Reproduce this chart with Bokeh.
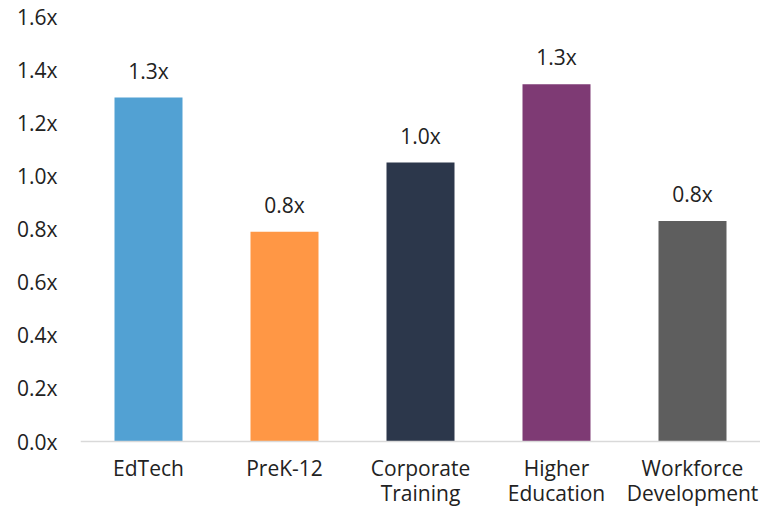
from bokeh.plotting import figure
from bokeh.models import ColumnDataSource, FactorRange, Range1d, FixedTicker, PrintfTickFormatter, Span
from bokeh.core.properties import value
from bokeh.embed import file_html
from bokeh.resources import INLINE

categories = ["EdTech", "PreK-12", "Corporate Training", "Higher Education", "Workforce Development"]
tick_line1 = ["EdTech", "PreK-12", "Corporate", "Higher", "Workforce"]
tick_line2 = ["", "", "Training", "Education", "Development"]
values = [1.295, 0.79, 1.05, 1.345, 0.83]
bar_labels = ["1.3x", "0.8x", "1.0x", "1.3x", "0.8x"]
colors = ["#52A1D3", "#FF9745", "#2C374B", "#7E3A74", "#5E5E5E"]
y_ticks = [0.0, 0.2, 0.4, 0.6, 0.8, 1.0, 1.2, 1.4, 1.6]

FONT = "Open Sans"
FS = "21px"
TXT = "#222222"

src = ColumnDataSource(dict(cat=categories, val=values, lab=bar_labels, col=colors,
                            l1=tick_line1, l2=tick_line2, base=[0.0] * len(categories)))

# y range extends below zero to leave room for the two-row category labels
p = figure(x_range=FactorRange(*categories), y_range=Range1d(-0.252, 1.6),
           width=760, height=508, output_backend="svg", toolbar_location=None,
           min_border_left=80, min_border_right=0, min_border_top=16, min_border_bottom=0)
p.outline_line_color = None
p.xgrid.visible = False
p.ygrid.visible = False
p.xaxis.visible = False
p.background_fill_color = "white"
p.border_fill_color = "white"

p.add_layout(Span(location=0, dimension="width", line_color="#D9D9D9", line_width=1.5))

p.vbar(x="cat", top="val", bottom=0, width=0.5, fill_color="col", line_color=None, source=src)
p.text(x="cat", y="val", text="lab", source=src, text_align="center", text_baseline="alphabetic",
       y_offset=-27, text_font=value(FONT), text_font_size=FS, text_color=TXT)

for col, off in (("l1", 26), ("l2", 51.5)):
    p.text(x="cat", y="base", text=col, source=src, y_offset=off,
           text_align="center", text_baseline="alphabetic",
           text_font=value(FONT), text_font_size=FS, text_color=TXT)

p.yaxis.ticker = FixedTicker(ticks=y_ticks)
p.yaxis.formatter = PrintfTickFormatter(format="%.1fx")
p.yaxis.axis_line_color = None
p.yaxis.major_tick_line_color = None
p.yaxis.minor_tick_line_color = None
p.yaxis.major_label_standoff = 17
p.yaxis.major_label_text_font = FONT
p.yaxis.major_label_text_font_size = FS
p.yaxis.major_label_text_color = TXT

open("out.html", "w").write(file_html(p, INLINE))
